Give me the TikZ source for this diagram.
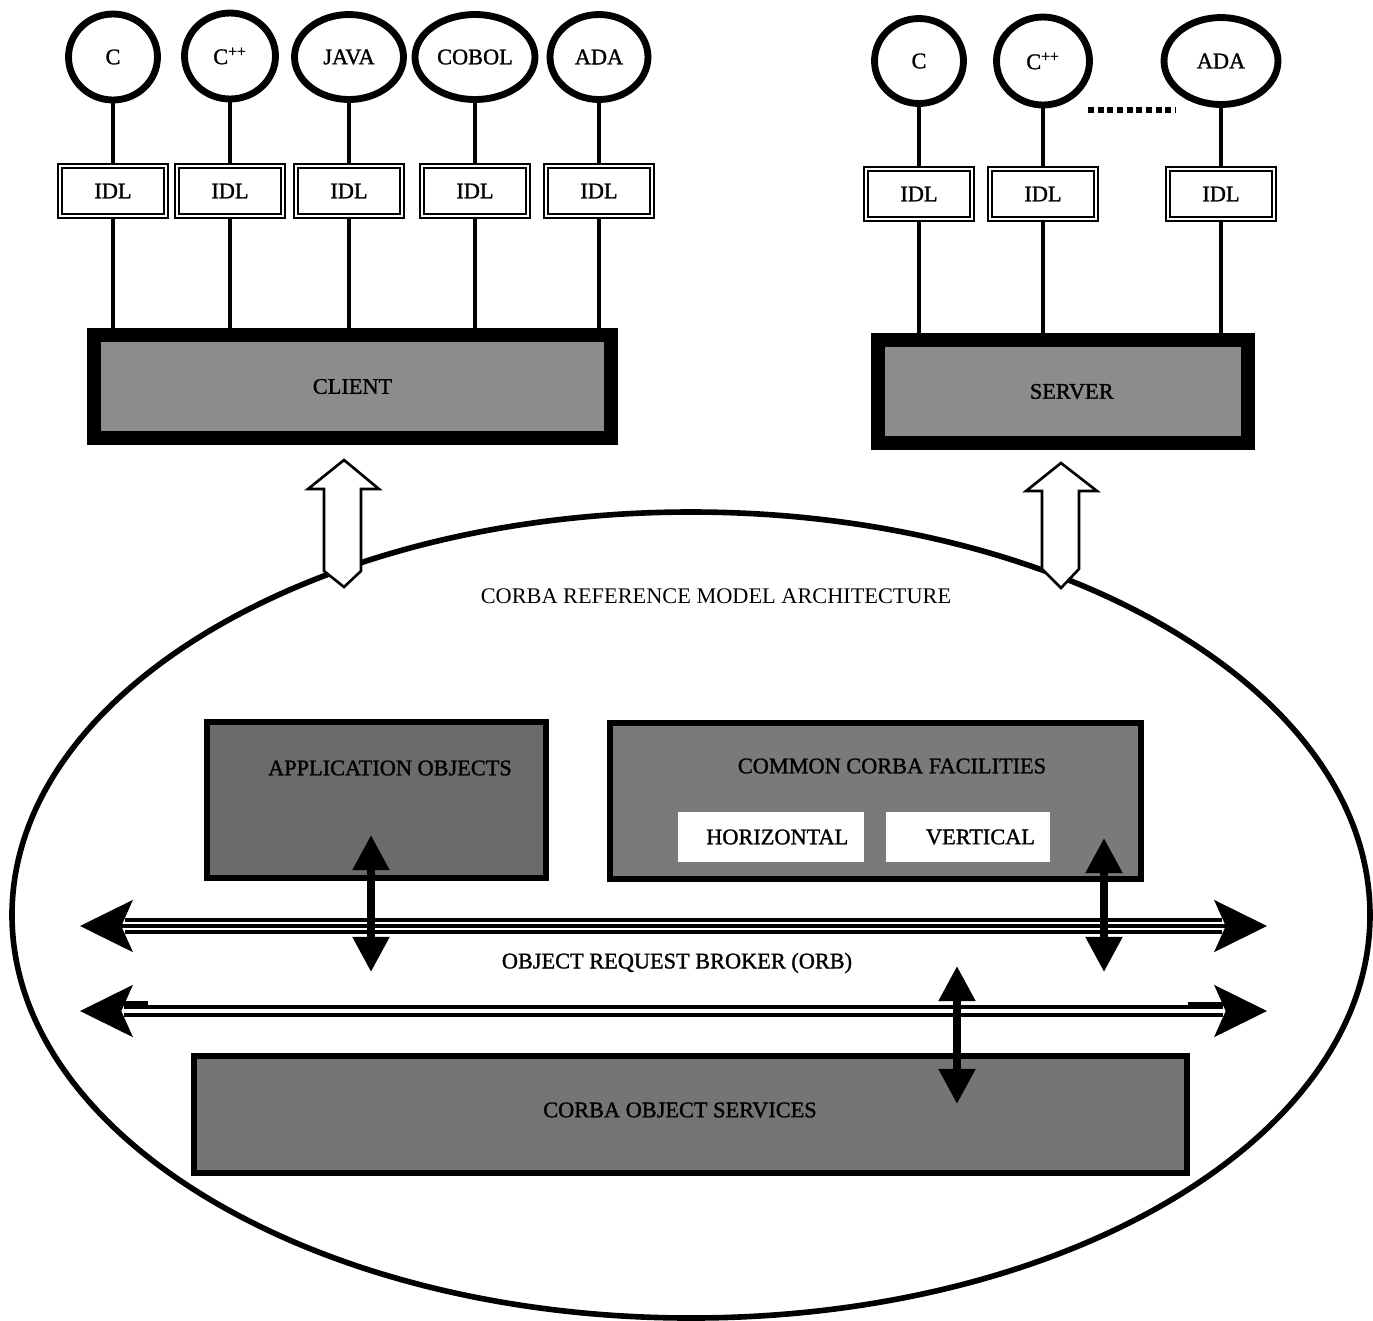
\documentclass[tikz,border=0pt]{standalone}
\usepackage{fontspec}
\setmainfont{Liberation Serif}
\newfontfamily\heavy[FakeBold=1.3]{Liberation Serif}
\usetikzlibrary{shapes.geometric,arrows.meta}

\tikzset{
  heavytext/.style={font=\fontsize{12.7}{15}\heavy},
  lang/.style={draw, ellipse, line width=3.9pt, inner sep=0pt, heavytext},
  idl/.style={draw, double, double distance=1.1pt, line width=1.3pt, fill=white,
    minimum width=2.12cm, minimum height=1cm, heavytext},
  host/.style={draw, line width=7.9pt, fill=black!45, minimum height=2.06cm, heavytext},
  part/.style={draw, line width=3.4pt, inner sep=0pt},
  pane/.style={fill=white, minimum height=1cm, heavytext},
  wire/.style={line width=2.8pt},
  hollow/.style={draw, fill=white, line width=1.5pt, line join=miter},
  rail/.style={line width=1.9pt},
  bushead/.tip={Stealth[length=30pt, width=29.5pt, inset=6.5pt, color=black]},
  bus/.style={line width=2pt, bushead-bushead},
  link/.style={line width=4.5pt, {Triangle[length=20pt, width=20pt]}-{Triangle[length=20pt, width=20pt]}}
}

\begin{document}
\begin{tikzpicture}[x=0.02cm, y=-0.02cm, font=\fontsize{12.7}{15}\selectfont]
\useasboundingbox (0,0) rectangle (1373,1320);

% the model
\draw[line width=3.2pt] (691,915) ellipse [x radius=679, y radius=403];

% client languages
\node[lang, minimum width=1.78cm, minimum height=1.72cm] (cC) at (113,57) {C};
\node[lang, minimum width=1.82cm, minimum height=1.72cm] (cCpp) at (230,56) {C\textsuperscript{++}};
\node[lang, minimum width=2.18cm, minimum height=1.70cm] (cJava) at (349,57) {JAVA};
\node[lang, minimum width=2.40cm, minimum height=1.70cm] (cCobol) at (475,57) {COBOL};
\node[lang, minimum width=1.96cm, minimum height=1.70cm] (cAda) at (599,57) {ADA};

\node[idl] (iC) at (113,191) {IDL};
\node[idl] (iCpp) at (230,191) {IDL};
\node[idl] (iJava) at (349,191) {IDL};
\node[idl] (iCobol) at (475,191) {IDL};
\node[idl] (iAda) at (599,191) {IDL};

\node[host, minimum width=10.34cm] (client) at (352.5,386.5) {CLIENT};

\foreach \l in {C,Cpp,Java,Cobol,Ada} {
  \draw[wire] (c\l) -- (i\l);
  \draw[wire] (i\l) -- (i\l |- client.north);
}

% server languages
\node[lang, minimum width=1.78cm, minimum height=1.70cm] (sC) at (919,61) {C};
\node[lang, minimum width=1.86cm, minimum height=1.76cm] (sCpp) at (1043,61) {C\textsuperscript{++}};
\node[lang, minimum width=2.28cm, minimum height=1.74cm] (sAda) at (1221,61) {ADA};

\node[idl] (jC) at (919,194) {IDL};
\node[idl] (jCpp) at (1043,194) {IDL};
\node[idl] (jAda) at (1221,194) {IDL};

\node[host, minimum width=7.4cm] (server) at (1063,391.5) {\hspace{0.35cm}SERVER};

\foreach \l in {C,Cpp,Ada} {
  \draw[wire] (s\l) -- (j\l);
  \draw[wire] (j\l) -- (j\l |- server.north);
}
\draw[line width=3.4pt, dash pattern=on 3.4pt off 2.1pt] (1088,110) -- (1175,110);

% hollow arrows into the model
\draw[hollow] (344,460) -- (379,489) -- (361,489) -- (361,571) -- (344,587)
  -- (324,571) -- (324,489) -- (308,489) -- cycle;
\draw[hollow] (1061,463) -- (1097,491) -- (1079,491) -- (1079,569) -- (1061,588)
  -- (1042,569) -- (1042,491) -- (1026,491) -- cycle;

\node (crma) at (716,596) {CORBA REFERENCE MODEL ARCHITECTURE};

% objects and facilities
\node[part, fill=black!58, minimum width=6.78cm, minimum height=3.12cm] (app) at (376.5,800) {};
\node[heavytext] (appT) at (390,768) {APPLICATION OBJECTS};

\node[part, fill=black!52, minimum width=10.62cm, minimum height=3.12cm] (ccf) at (875.5,801) {};
\node[heavytext] (ccfT) at (892,766) {COMMON CORBA FACILITIES};
\node[pane, minimum width=3.72cm] (horiz) at (771,837) {\hspace{0.25cm}HORIZONTAL};
\node[pane, minimum width=3.28cm] (vert) at (968,837) {\hspace{0.5cm}VERTICAL};

\node[part, fill=black!54, minimum width=19.86cm, minimum height=2.34cm] (cos) at (690.5,1114.5) {};
\node[heavytext] (cosT) at (680,1110) {CORBA OBJECT SERVICES};

% the bus
\coordinate (orbL) at (80,926);
\coordinate (orbR) at (1267,926);
\draw[bus] (orbL) -- (orbR);
\draw[rail] (125,920) -- (1222,920);
\draw[rail] (125,932) -- (1222,932);

\coordinate (orbL2) at (80,1011);
\coordinate (orbR2) at (1267,1011);
\draw[bus, white] (orbL2) -- (orbR2);
\draw[rail] (124,1007) -- (1223,1007);
\draw[rail] (124,1015) -- (1223,1015);
\draw[line width=2.3pt] (122,1003) -- (148,1003);
\draw[line width=2pt] (1188,1004) -- (1225,1004);

\node[heavytext] (orb) at (677,963) {OBJECT REQUEST BROKER (ORB)};

% links to the bus
\coordinate (appA) at (371,835);
\coordinate (appB) at (371,972);
\draw[link] (appA) -- (appB);
\coordinate (ccfA) at (1104,838);
\coordinate (ccfB) at (1104,972);
\draw[link] (ccfA) -- (ccfB);
\coordinate (cosA) at (957,966);
\coordinate (cosB) at (957,1104);
\draw[link] (cosA) -- (cosB);
\end{tikzpicture}
\end{document}
